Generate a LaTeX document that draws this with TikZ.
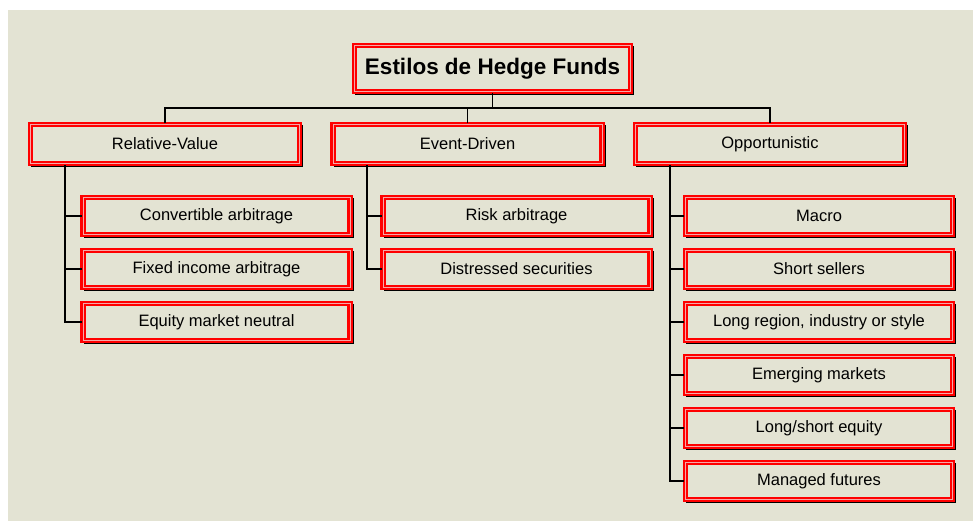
\documentclass[tikz,border=0pt]{standalone}
\usepackage{fontspec}
\setmainfont{Liberation Sans}
\usetikzlibrary{shadows}
\definecolor{panel}{HTML}{E3E3D3}
\definecolor{frame}{HTML}{FF0000}
\definecolor{frameinner}{HTML}{F6A8A8}
\tikzset{
  fundbox/.style={
    draw=frame, line width=2.1pt, double=frameinner, double distance=1pt,
    fill=panel, inner sep=0pt, text=black, font=\fontsize{16.5}{19}\selectfont,
    general shadow={draw=black, fill=black, line width=3.4pt, shadow xshift=2.2pt, shadow yshift=-2.2pt}},
  topbox/.style={fundbox, minimum width=276pt, minimum height=46pt,
    font=\bfseries\fontsize{22.5}{26}\selectfont},
  groupbox/.style={fundbox, minimum width=269pt, minimum height=39pt},
  leafbox/.style={fundbox, minimum width=267pt, minimum height=37pt},
  tree/.style={draw=black, line width=1.2pt}
}
\begin{document}
\begin{tikzpicture}[x=1pt, y=-1pt]
  % page and panel
  \fill[white] (0,0) rectangle (973,521);
  \fill[panel] (8,10) rectangle (973,521);
  \useasboundingbox (0,0) rectangle (973,521);

  % root
  \node[topbox] (root) at (492.5,68.5) {Estilos de Hedge Funds};

  % style families
  \node[groupbox] (rv) at (165,144) {Relative-Value};
  \node[groupbox] (ed) at (467.5,144) {Event-Driven};
  \node[groupbox] (op) at (770,144) {Opportunistic};

  % relative-value strategies
  \node[leafbox] (ca) at (216.5,216) {Convertible arbitrage};
  \node[leafbox] (fi) at (216.5,269) {Fixed income arbitrage};
  \node[leafbox] (em) at (216.5,322) {Equity market neutral};

  % event-driven strategies
  \node[leafbox] (ra) at (516.5,216) {Risk arbitrage};
  \node[leafbox] (ds) at (516.5,269) {Distressed securities};

  % opportunistic strategies
  \node[leafbox] (ma) at (819,216) {Macro};
  \node[leafbox] (ss) at (819,269) {Short sellers};
  \node[leafbox] (lr) at (819,322) {Long region, industry or style};
  \node[leafbox] (ek) at (819,375) {Emerging markets};
  \node[leafbox] (ls) at (819,428) {Long/short equity};
  \node[leafbox] (mf) at (819,481) {Managed futures};

  % connectors from the root
  \coordinate (bar) at (0,108);
  \draw[tree] (root.south) -- (root.south |- bar);
  \draw[tree] (rv.north) -- (rv.north |- bar) -| (op.north);
  \draw[tree] (ed.north) -- (ed.north |- bar);

  % relative-value spine
  \coordinate (rvs) at (65,165);
  \draw[tree] (rvs) |- (em.west);
  \draw[tree] (ca.west -| rvs) -- (ca.west);
  \draw[tree] (fi.west -| rvs) -- (fi.west);

  % event-driven spine
  \coordinate (eds) at (367,165);
  \draw[tree] (eds) |- (ds.west);
  \draw[tree] (ra.west -| eds) -- (ra.west);

  % opportunistic spine
  \coordinate (ops) at (670,165);
  \draw[tree] (ops) |- (mf.west);
  \draw[tree] (ma.west -| ops) -- (ma.west);
  \draw[tree] (ss.west -| ops) -- (ss.west);
  \draw[tree] (lr.west -| ops) -- (lr.west);
  \draw[tree] (ek.west -| ops) -- (ek.west);
  \draw[tree] (ls.west -| ops) -- (ls.west);
\end{tikzpicture}
\end{document}
